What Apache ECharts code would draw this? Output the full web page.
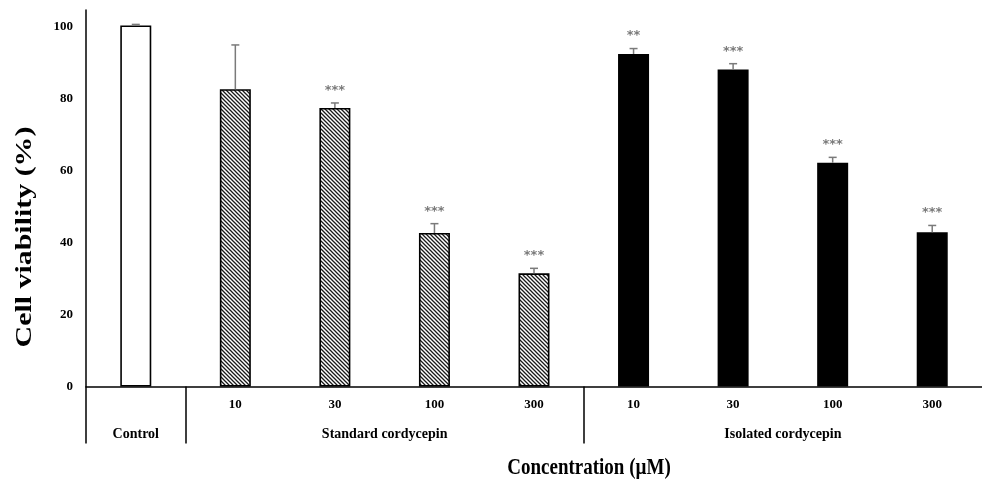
<!DOCTYPE html>
<html>
<head>
<meta charset="utf-8">
<script src="https://cdn.jsdelivr.net/npm/echarts@6/dist/echarts.min.js"></script>
<style>
html,body{margin:0;padding:0;background:#fff;}
#c{width:982px;height:481px;}
</style>
</head>
<body>
<div id="c"></div>
<script>
// ---- data ----
var categories = ['Control', '10', '30', '100', '300', '10', '30', '100', '300'];
var viability = [100.2, 82.5, 77.3, 42.6, 31.4, 92.3, 88.0, 62.1, 42.8];
var errors = [0.3, 12.3, 1.4, 2.6, 1.4, 1.5, 1.6, 1.5, 1.9];
var significance = ['', '', '***', '***', '***', '**', '***', '***', '***'];
var fillTypes = ['white', 'hatch', 'hatch', 'hatch', 'hatch', 'black', 'black', 'black', 'black'];
var groupLabels = ['Control', 'Standard cordycepin', 'Isolated cordycepin'];
var groupCenters = [0.5, 3, 7];
var groupBoundaries = [0, 1, 5];
var yTicks = [0, 20, 40, 60, 80, 100];

// hatch pattern
var pc = document.createElement('canvas');
pc.width = 4; pc.height = 4;
var g = pc.getContext('2d');
g.fillStyle = '#ffffff'; g.fillRect(0, 0, 4, 4);
g.strokeStyle = '#1a1a1a'; g.lineWidth = 1.3;
g.beginPath();
g.moveTo(-1, -1); g.lineTo(5, 5);
g.moveTo(-1, 3); g.lineTo(1, 5);
g.moveTo(3, -1); g.lineTo(5, 1);
g.stroke();
var hatch = { image: pc, repeat: 'repeat' };

function fillFor(t) {
  if (t === 'white') return '#ffffff';
  if (t === 'black') return '#000000';
  return hatch;
}

var barData = viability.map(function (v, i) {
  return { value: v, itemStyle: { color: fillFor(fillTypes[i]) } };
});
var errData = viability.map(function (v, i) { return [i, v, errors[i]]; });

var serif = '"Liberation Serif", "Times New Roman", serif';

var chart = echarts.init(document.getElementById('c'));
chart.setOption({
  animation: false,
  grid: { left: 86, right: -4, top: 10, bottom: 94.5, containLabel: false },
  xAxis: [{
    type: 'category',
    data: categories,
    axisLine: { lineStyle: { color: '#000', width: 1.5 } },
    axisTick: { show: false },
    axisLabel: {
      interval: 0, margin: 12,
      fontFamily: serif, fontWeight: 'bold', fontSize: 13, color: '#000',
      formatter: function (v, i) { return i === 0 ? '' : v; }
    }
  }, {
    type: 'value',
    min: 0, max: 9,
    position: 'bottom',
    axisLine: { show: false },
    splitLine: { show: false },
    axisTick: {
      show: true, customValues: groupBoundaries, length: 57, inside: false,
      lineStyle: { color: '#000', width: 1.5 }
    },
    axisLabel: {
      show: true, customValues: groupCenters, margin: 41,
      fontFamily: serif, fontWeight: 'bold', fontSize: 14, color: '#000',
      formatter: function (v) {
        var k = groupCenters.indexOf(v);
        return k >= 0 ? groupLabels[k] : '';
      }
    }
  }],
  yAxis: {
    type: 'value',
    min: 0, max: 104.5, interval: 20,
    axisLine: { show: true, lineStyle: { color: '#000', width: 1.5 } },
    axisTick: { show: false },
    splitLine: { show: false },
    axisLabel: {
      margin: 13,
      fontFamily: serif, fontWeight: 'bold', fontSize: 13, color: '#000',
      formatter: function (v) { return yTicks.indexOf(v) >= 0 ? String(v) : ''; }
    }
  },
  series: [{
    type: 'bar',
    xAxisIndex: 0,
    barWidth: 31,
    data: barData,
    itemStyle: { borderColor: '#000', borderWidth: 1.6 },
    z: 2
  }, {
    type: 'custom',
    xAxisIndex: 0,
    data: errData,
    z: 3,
    renderItem: function (params, api) {
      var x = api.value(0), v = api.value(1), e = api.value(2);
      var sig = significance[params.dataIndex];
      var p0 = api.coord([x, v]);
      var p1 = api.coord([x, v + e]);
      var cap = 4;
      var st = { stroke: '#7a7a7a', lineWidth: 1.5 };
      var children = [
        { type: 'line', shape: { x1: p0[0], y1: p0[1], x2: p1[0], y2: p1[1] }, style: st },
        { type: 'line', shape: { x1: p1[0] - cap, y1: p1[1], x2: p1[0] + cap, y2: p1[1] }, style: st }
      ];
      if (sig) {
        children.push({
          type: 'text',
          style: {
            text: sig, x: p1[0], y: p1[1] - 6,
            align: 'center', verticalAlign: 'bottom',
            fill: '#7a7a7a', font: 'bold 13px "DejaVu Sans", sans-serif'
          }
        });
      }
      return { type: 'group', children: children };
    }
  }],
  graphic: [{
    type: 'text',
    x: 25, y: 237,
    rotation: Math.PI / 2,
    scaleX: 1.3,
    style: {
      text: 'Cell viability (%)',
      font: 'bold 23px "Liberation Serif", serif',
      fill: '#000', align: 'center', verticalAlign: 'middle'
    }
  }, {
    type: 'text',
    x: 589, y: 468,
    scaleY: 1.2,
    style: {
      text: 'Concentration (\u00b5M)',
      font: 'bold 19px "Liberation Serif", serif',
      fill: '#000', align: 'center', verticalAlign: 'middle'
    }
  }]
});
</script>
</body>
</html>
